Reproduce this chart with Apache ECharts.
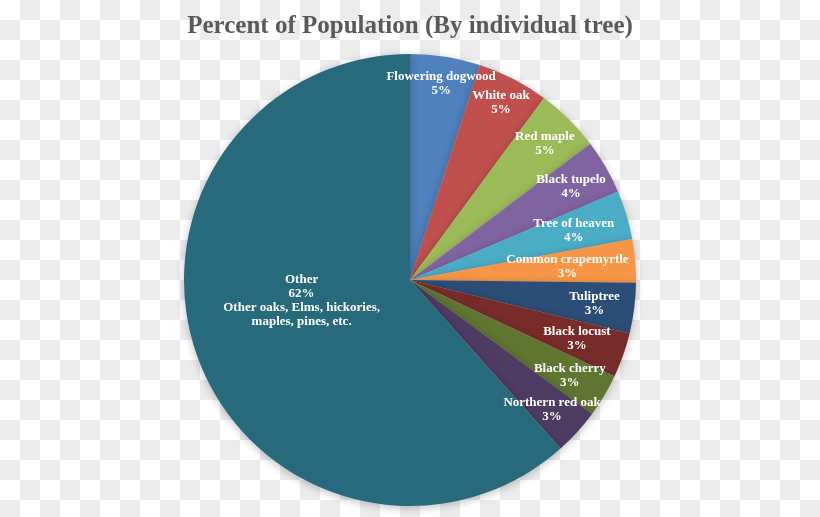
<!DOCTYPE html>
<html>
<head>
<meta charset="utf-8">
<script src="https://cdn.jsdelivr.net/npm/echarts@6/dist/echarts.min.js"></script>
<style>
  html, body { margin: 0; padding: 0; }
  body {
    width: 820px; height: 517px; overflow: hidden;
    background-color: #ffffff;
    background-image:
      linear-gradient(45deg, #ececec 25%, transparent 25%, transparent 75%, #ececec 75%),
      linear-gradient(45deg, #ececec 25%, transparent 25%, transparent 75%, #ececec 75%);
    background-size: 40px 40px;
    background-position: 0 0, 20px 20px;
  }
  #chart { width: 820px; height: 517px; }
</style>
</head>
<body>
<div id="chart"></div>
<script>
const titleText = 'Percent of Population (By individual tree)';
const categories = ['Flowering dogwood', 'White oak', 'Red maple', 'Black tupelo', 'Tree of heaven',
  'Common crapemyrtle', 'Tuliptree', 'Black locust', 'Black cherry', 'Northern red oak', 'Other'];
const values = [5.0, 5.1, 4.6, 3.9, 3.5, 3.1, 3.6, 3.2, 3.1, 3.3, 61.6];
const pctLabels = ['5%', '5%', '5%', '4%', '4%', '3%', '3%', '3%', '3%', '3%', '62%'];
const otherNote = 'Other oaks, Elms, hickories,\nmaples, pines, etc.';
const colors = ['#4f81bd', '#c0504d', '#9bbb59', '#8064a2', '#4bacc6', '#f79646',
  '#2c4d75', '#772c2a', '#5f7530', '#4d3b62', '#276a7c'];
// label placement (style only): ring 0 = centre of main pie, others = label ring radius below
const labelRing = [1, 1, 2, 3, 4, 5, 3, 6, 3, 2, 0];
const ringLabelRadius = { 1: 196, 2: 189, 3: 183, 4: 168, 5: 155, 6: 174 };

const R = 226, CENTER = [410, 280];
const labelFont = { color: '#ffffff', fontFamily: 'Liberation Serif', fontWeight: 'bold', fontSize: 13, lineHeight: 14, overflow: 'none' };

const mainData = categories.map((c, i) => ({
  name: c, value: values[i],
  itemStyle: { color: colors[i] },
  label: { show: labelRing[i] === 0 }
}));

function ringSeries(ring) {
  return {
    type: 'pie', center: CENTER, radius: [2 * ringLabelRadius[ring] - R, R], startAngle: 90, clockwise: true,
    silent: true, animation: false, avoidLabelOverlap: false,
    itemStyle: { borderWidth: 0 },
    label: {
      position: 'inside', ...labelFont,
      formatter: p => p.name + '\n' + pctLabels[p.dataIndex]
    },
    labelLayout: { hideOverlap: false },
    labelLine: { show: false },
    data: categories.map((c, i) => ({
      name: c, value: values[i],
      itemStyle: { color: 'rgba(0,0,0,0)' },
      label: { show: labelRing[i] === ring }
    }))
  };
}

const chart = echarts.init(document.getElementById('chart'), null, { renderer: 'canvas' });
chart.setOption({
  backgroundColor: 'transparent',
  title: {
    text: titleText, left: 'center', top: 9,
    textStyle: { fontFamily: 'Liberation Serif', fontWeight: 'bold', fontSize: 25, color: '#595959' }
  },
  series: [
    {
      type: 'pie', center: CENTER, radius: [0, R], startAngle: 90, clockwise: true,
      silent: true, animation: false, avoidLabelOverlap: false,
      itemStyle: { borderWidth: 0, shadowBlur: 8, shadowColor: 'rgba(0,0,0,0.25)', shadowOffsetY: 2 },
      label: {
        position: 'inside', ...labelFont, offset: [0, -21],
        formatter: p => p.name + '\n' + pctLabels[p.dataIndex] + '\n' + otherNote
      },
      labelLine: { show: false },
      data: mainData
    },
    ringSeries(1), ringSeries(2), ringSeries(3), ringSeries(4), ringSeries(5), ringSeries(6)
  ]
});
</script>
</body>
</html>
